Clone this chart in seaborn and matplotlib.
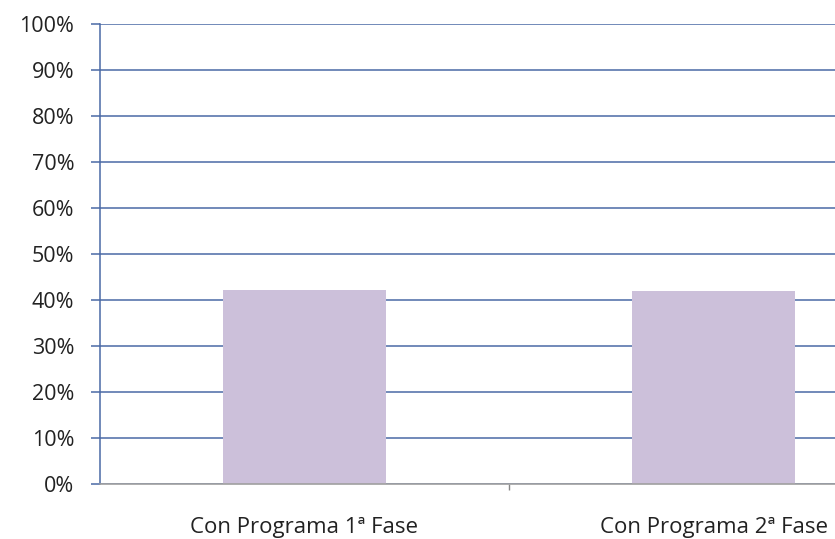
import matplotlib
matplotlib.use("Agg")
import matplotlib.pyplot as plt
import seaborn as sns
import pandas as pd
from matplotlib.ticker import FixedLocator, PercentFormatter

categories = ["Con Programa 1ª Fase", "Con Programa 2ª Fase"]
values = [42.2, 41.9]
y_ticks = [0, 10, 20, 30, 40, 50, 60, 70, 80, 90, 100]

sns.set_style("white")
plt.rcParams['font.family'] = ['Open Sans', 'DejaVu Sans']

df = pd.DataFrame({"cat": categories, "val": values})

fig = plt.figure(figsize=(8.35, 5.39), dpi=100)
ax = fig.add_axes([100/835, 1-484/539, 818/835, 460/539])

grid_color = "#4A6AA5"
ax.set_ylim(0, 100)
ax.set_yticks(y_ticks)
ax.yaxis.grid(True, color=grid_color, linewidth=1.1, zorder=0)
ax.set_axisbelow(True)

sns.barplot(data=df, x="cat", y="val", color="#CCC0DA", width=0.4,
            saturation=1, linewidth=0, ax=ax, zorder=3)
ax.set_xlim(-0.5, 1.5)
ax.set_xlabel("")
ax.set_ylabel("")

ax.yaxis.set_major_formatter(PercentFormatter(decimals=0))
ax.tick_params(axis="y", length=6.5, color=grid_color, width=1.1,
               labelsize=15.5, labelcolor="#222222", pad=12, left=True)
ax.tick_params(axis="x", which="major", length=0, labelsize=16,
               labelcolor="#222222", pad=24)
ax.xaxis.set_minor_locator(FixedLocator([0.5]))
ax.tick_params(axis="x", which="minor", length=4, color="#888888",
               width=1, bottom=True)

for s in ["top", "right"]:
    ax.spines[s].set_visible(False)
ax.spines["left"].set_color(grid_color)
ax.spines["left"].set_linewidth(1.1)
ax.spines["bottom"].set_color("#A0A0A0")
ax.spines["bottom"].set_linewidth(1.2)
ax.spines["bottom"].set_zorder(4)

fig.savefig("out.png", dpi=100)
